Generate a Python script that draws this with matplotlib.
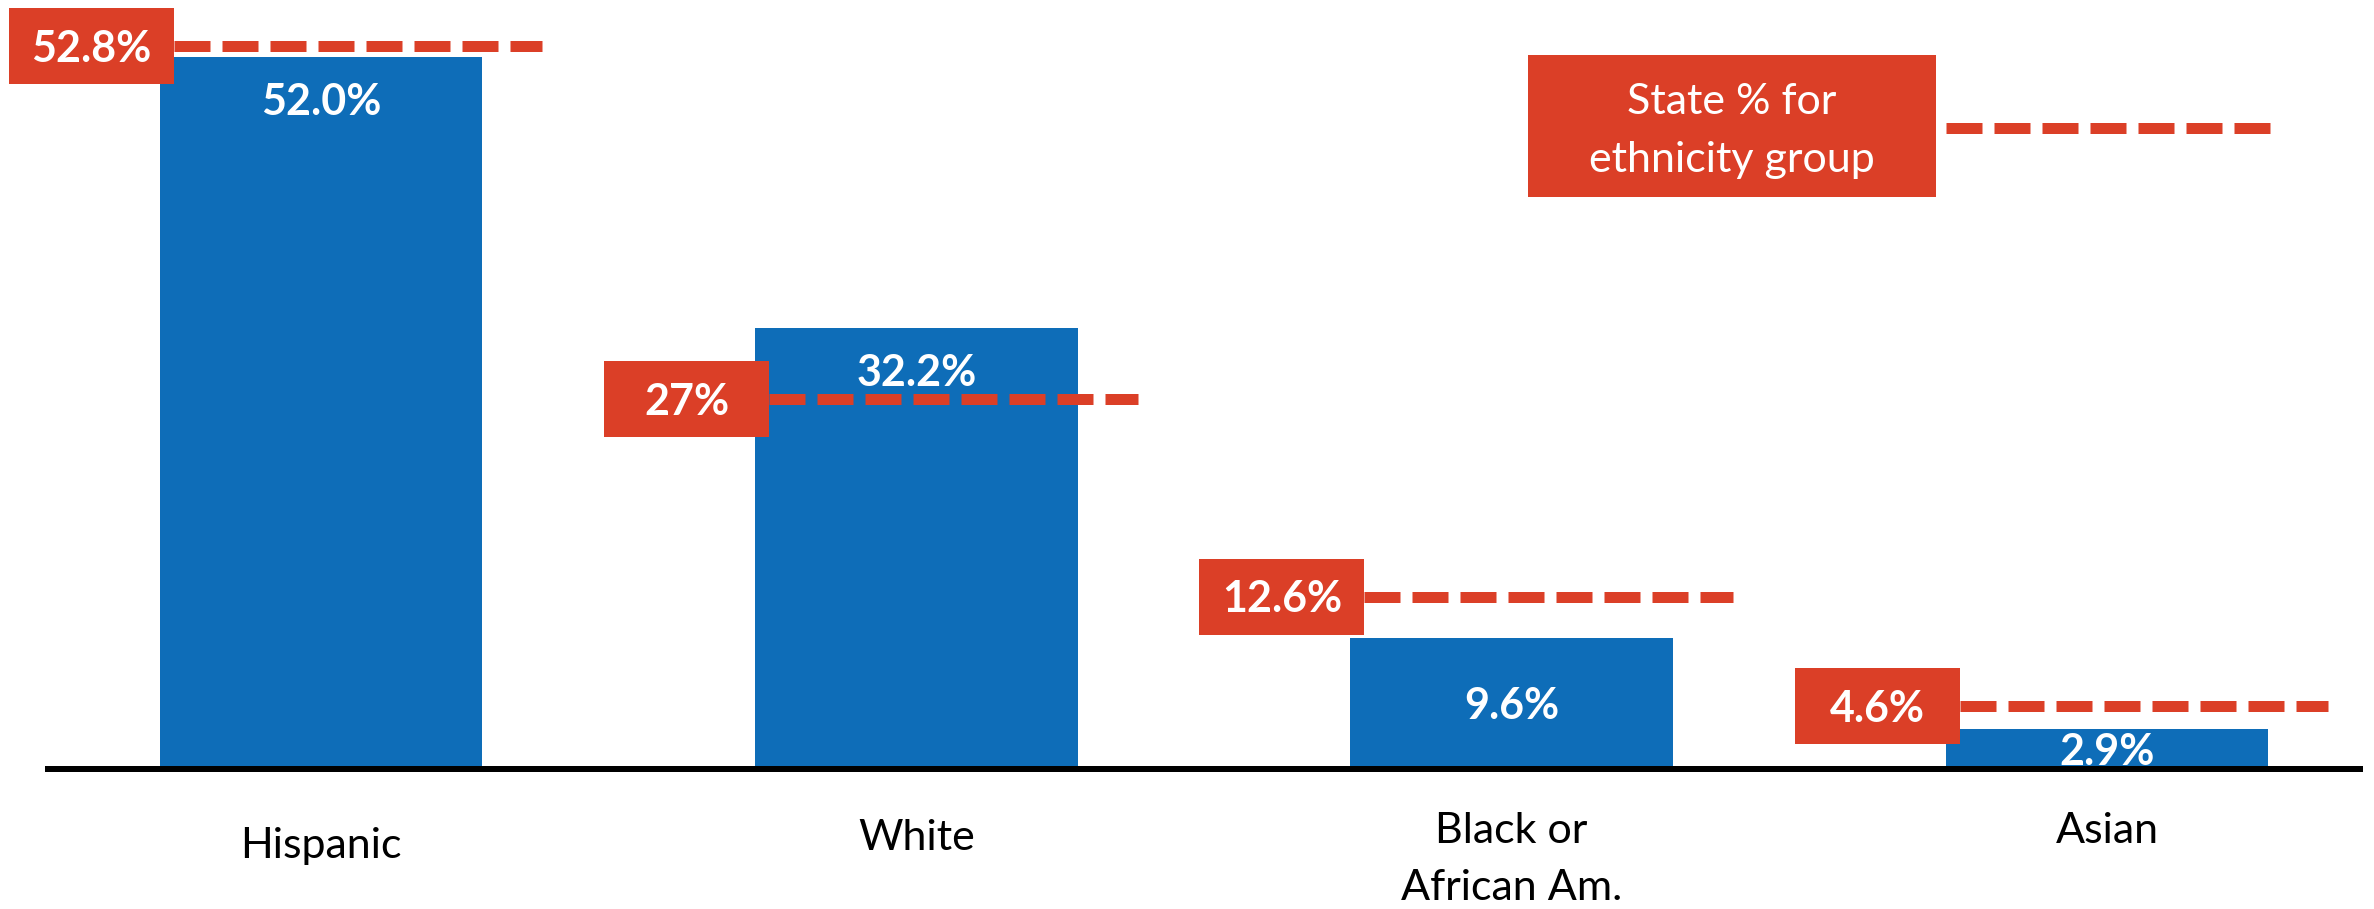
import matplotlib
matplotlib.use("Agg")
import matplotlib.pyplot as plt
from matplotlib.patches import Rectangle

# ---- data -------------------------------------------------------------
categories = ["Hispanic", "White", "Black or\nAfrican Am.", "Asian"]
district_pct = [52.0, 32.2, 9.6, 2.9]
state_pct = [52.8, 27.0, 12.6, 4.6]
state_labels = ["52.8%", "27%", "12.6%", "4.6%"]
district_labels = ["52.0%", "32.2%", "9.6%", "2.9%"]
legend_text = ["State % for", "ethnicity group"]

# ---- style / layout ---------------------------------------------------
BLUE = "#0E6DB8"
RED = "#DB3F27"
DPI = 100
W_PX, H_PX = 2374, 909
FONT = ["Lato", "DejaVu Sans"]
FS = 31                      # pt
BAR_W = 0.542
PX_PER_UNIT_X = 595.33       # pixel spacing between categories
PX_PER_PCT = 13.69           # pixels per percentage point
BASE_PX = 769                # baseline, pixels from top
FIRST_CENTER_PX = 321

# label placement inside bars: 'end' = near the top, 'center' = middle
inside_mode = ["end", "end", "center", "center"]
cat_baseline_px = [858, 850, 843, 843]


def pt(px):
    return px * 72.0 / DPI


def xd(px):
    return (px - FIRST_CENTER_PX) / PX_PER_UNIT_X


def yd(px):
    return (BASE_PX - px) / PX_PER_PCT


fig = plt.figure(figsize=(W_PX / DPI, H_PX / DPI), dpi=DPI)
ax = fig.add_axes([0, 0, 1, 1])
ax.set_xlim(xd(0), xd(W_PX))
ax.set_ylim(yd(H_PX), yd(0))
ax.axis("off")

x = list(range(len(categories)))

# district bars
ax.bar(x, district_pct, width=BAR_W, color=BLUE, zorder=2)

# baseline
ax.plot([xd(45), xd(2363)], [0, 0], color="black", lw=pt(6),
        solid_capstyle="butt", zorder=6)

dash_lw = pt(11)
dash_style = (0, (36 / 11, 12 / 11))
box_w = 165 / PX_PER_UNIT_X
box_h = 76 / PX_PER_PCT

for i, c in enumerate(x):
    v = district_pct[i]
    # value label inside the bar
    if inside_mode[i] == "end":
        ax.annotate(district_labels[i], xy=(c, v), xytext=(0, -pt(58)),
                    textcoords="offset points", ha="center", va="baseline",
                    color="white", fontsize=FS, fontweight="bold",
                    family=FONT, zorder=4)
    else:
        ax.annotate(district_labels[i], xy=(c, v / 2), xytext=(0, -pt(15.5)),
                    textcoords="offset points", ha="center", va="baseline",
                    color="white", fontsize=FS, fontweight="bold",
                    family=FONT, zorder=4)

    # state reference line with its tag
    s = state_pct[i]
    box_right = c - BAR_W / 2 + 14 / PX_PER_UNIT_X
    line_end = c + BAR_W / 2 + 60 / PX_PER_UNIT_X
    ax.plot([box_right, line_end], [s, s], color=RED, lw=dash_lw,
            linestyle=dash_style, dash_capstyle="butt", zorder=3)
    ax.add_patch(Rectangle((box_right - box_w, s - box_h / 2), box_w, box_h,
                           facecolor=RED, edgecolor="none", zorder=5))
    ax.annotate(state_labels[i], xy=(box_right - box_w / 2, s),
                xytext=(0, -pt(15.5)), textcoords="offset points",
                ha="center", va="baseline", color="white", fontsize=FS,
                fontweight="bold", family=FONT, zorder=6)

    # category label under the axis
    for k, line in enumerate(categories[i].split("\n")):
        ax.text(c, yd(cat_baseline_px[i] + 57 * k), line, ha="center",
                va="baseline", color="black", fontsize=FS, family=FONT)

# legend tag
ax.add_patch(Rectangle((xd(1528), yd(197)), xd(1936) - xd(1528),
                       yd(55) - yd(197), facecolor=RED, edgecolor="none",
                       zorder=5))
for k, line in enumerate(legend_text):
    ax.text(xd(1732), yd(114 + 58 * k), line, ha="center", va="baseline",
            color="white", fontsize=FS, family=FONT, zorder=6)
ax.plot([xd(1946), xd(2270)], [yd(128), yd(128)], color=RED, lw=dash_lw,
        linestyle=dash_style, dash_capstyle="butt", zorder=3)

fig.savefig("out.png", dpi=DPI, facecolor="white")
